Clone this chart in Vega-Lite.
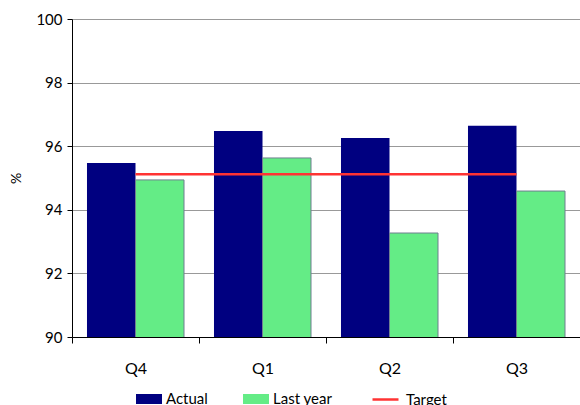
{
  "$schema": "https://vega.github.io/schema/vega-lite/v6.json",
  "autosize": "none",
  "width": 508,
  "height": 318,
  "padding": {"left": 72, "top": 19, "right": 0, "bottom": 68},
  "config": {
    "view": {"stroke": null},
    "font": "Lato",
    "axis": {"labelColor": "black", "titleColor": "black", "domainColor": "black", "tickColor": "black", "labelFont": "Lato", "titleFont": "Lato"},
    "legend": {"labelFont": "Lato", "labelColor": "black", "labelFontSize": 15}
  },
  "datasets": {
    "bars": [
      {"quarter": "Q4", "series": "Actual", "value": 95.47},
      {"quarter": "Q4", "series": "Last year", "value": 94.94},
      {"quarter": "Q1", "series": "Actual", "value": 96.48},
      {"quarter": "Q1", "series": "Last year", "value": 95.63},
      {"quarter": "Q2", "series": "Actual", "value": 96.26},
      {"quarter": "Q2", "series": "Last year", "value": 93.27},
      {"quarter": "Q3", "series": "Actual", "value": 96.64},
      {"quarter": "Q3", "series": "Last year", "value": 94.59}
    ],
    "target": [
      {"quarter": "Q4", "target": 95.12},
      {"quarter": "Q1", "target": 95.12},
      {"quarter": "Q2", "target": 95.12},
      {"quarter": "Q3", "target": 95.12}
    ]
  },
  "encoding": {
    "x": {
      "field": "quarter",
      "type": "nominal",
      "sort": ["Q4", "Q1", "Q2", "Q3"],
      "title": null,
      "scale": {"paddingInner": 0.236, "paddingOuter": 0.118},
      "axis": {"labelAngle": 0, "labelFontSize": 16, "labelPadding": 17, "tickOffset": -63.5, "labelOffset": 63.5, "tickSize": 6, "grid": false, "zindex": 1}
    }
  },
  "layer": [
    {
      "data": {"name": "bars"},
      "mark": {"type": "bar", "strokeWidth": 1, "clip": true},
      "encoding": {
        "xOffset": {"field": "series", "type": "nominal", "sort": ["Actual", "Last year"]},
        "y": {
          "field": "value",
          "type": "quantitative",
          "title": "%",
          "scale": {"domain": [90, 100], "zero": false},
          "axis": {"values": [90, 92, 94, 96, 98, 100], "labelFontSize": 15, "titleFontSize": 14, "titleFontWeight": "normal", "titlePadding": 12, "tickSize": 5, "gridColor": "#999999", "gridWidth": 1, "labelPadding": 5}
        },
        "fill": {
          "field": "series",
          "type": "nominal",
          "scale": {"domain": ["Actual", "Last year"], "range": ["#000080", "#64ec86"]},
          "legend": {
            "title": null,
            "orient": "none",
            "legendX": 66,
            "legendY": 369,
            "direction": "horizontal",
            "symbolType": "M-1.3,-0.5H1.3V0.5H-1.3Z",
            "symbolSize": 400,
            "symbolOpacity": 1,
            "columnPadding": 35,
            "labelOffset": 6,
            "encode": {"symbols": {"update": {"stroke": {"signal": "datum.label === 'Last year' ? '#6f7f8f' : '#000080'"}, "strokeWidth": {"value": 1}}}}
          }
        },
        "stroke": {
          "condition": {"test": "datum.series === 'Last year'", "value": "#6f7f8f"},
          "value": null
        }
      }
    },
    {
      "data": {"name": "target"},
      "mark": {"type": "line", "strokeWidth": 2.5},
      "encoding": {
        "y": {"field": "target", "type": "quantitative"},
        "stroke": {
          "datum": "Target",
          "scale": {"domain": ["Target"], "range": ["#ff3333"]},
          "legend": {
            "title": null,
            "orient": "none",
            "legendX": 299,
            "legendY": 366,
            "symbolType": "stroke",
            "symbolSize": 676,
            "symbolStrokeWidth": 2.5,
            "labelOffset": 6
          }
        }
      }
    }
  ]
}
